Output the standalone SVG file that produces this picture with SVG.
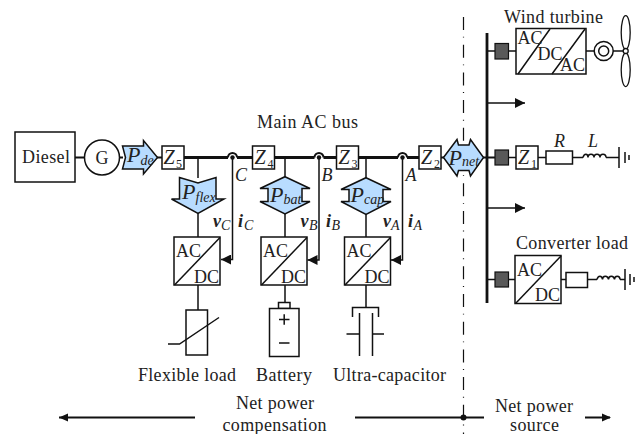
<svg xmlns="http://www.w3.org/2000/svg" width="640" height="434" viewBox="0 0 640 434">
<style>
text{font-family:"Liberation Serif","Times New Roman",serif;fill:#222;font-size:18px}
.i{font-style:italic}
.p{font-style:italic;font-size:22px}
.s{font-style:italic;font-size:14px}
.z{font-style:italic;font-size:20px}
.zs{font-size:12px}
.b{font-style:italic;font-weight:bold;font-size:18px}
.box{fill:#fff;stroke:#111;stroke-width:1.5}
.pw{fill:#b8dcff;stroke:#111;stroke-width:1.5;stroke-linejoin:miter}
.gray{fill:#595959;stroke:#111;stroke-width:1.2}
.l{fill:none;stroke:#111;stroke-width:1.5}
.t{fill:none;stroke:#111;stroke-width:2}
.bus{fill:none;stroke:#111;stroke-width:2.8}
.m{text-anchor:middle}
</style>
<defs>
<marker id="ah" markerUnits="userSpaceOnUse" markerWidth="11" markerHeight="10" refX="10" refY="5" orient="auto"><path d="M0 0L10 5L0 10Z" fill="#111"/></marker>
<g id="acdc"><rect class="box" x="0" y="0" width="46" height="48"/><path class="l" d="M0.5 48L46 0.5"/><text x="2" y="20">AC</text><text x="20" y="45.500">DC</text></g>
</defs>
<g id="connectors">
<path class="t" d="M75 157.500H85M120 157.500H123M157 157.500H162M441 157.500H444M483 157.500H487"/>
<path class="bus" d="M184 157.500H228M237 157.500H252M274 157.500H314.500M323.500 157.500H337M358 157.500H398M407 157.500H419"/>
<path class="l" d="M198 157.500V178M198 213V237M285 157.500V177M285 214V237M366 157.500V178M366 214V237"/>
<path class="l" d="M198 285V310M285 285V303M366 285V307"/>
<path class="t" d="M228 157.500A4.500 4.500 0 0 1 237 157.500M314.500 157.500A4.500 4.500 0 0 1 323.500 157.500M398 157.500A4.500 4.500 0 0 1 407 157.500"/>
<circle cx="232.500" cy="157.500" r="2.200" fill="#111"/><circle cx="319" cy="157.500" r="2.200" fill="#111"/><circle cx="402.500" cy="157.500" r="2.200" fill="#111"/>
<path class="l" d="M232.500 157.500V259.500H221" marker-end="url(#ah)"/>
<path class="l" d="M319 157.500V260H307.500" marker-end="url(#ah)"/>
<path class="l" d="M402.500 157.500V260H391" marker-end="url(#ah)"/>
<path d="M463.500 17V434" fill="none" stroke="#111" stroke-width="1.200" stroke-dasharray="13 6.700 0.900 7.100"/>
<path class="bus" d="M487 33V303"/>
<path class="l" d="M487 51H516M508 157.500H516M538 157.500H546M572 157.500H583M606 157.500H619M487 279.500H516M560 279.500H566M588 279.500H597M620 279.500H625M586 51H594M613 51H625"/>
<path class="t" d="M487 157.500H495"/>
<path class="l" d="M487 103H525" marker-end="url(#ah)"/>
<path class="l" d="M487 208H525" marker-end="url(#ah)"/>
<path class="t" d="M59 417.500H195M355 417.500H484M585 417.500H610"/>
<path d="M59 417.500L68 413.500V421.500Z" fill="#111"/>
<path d="M611 417.500L602 413.500V421.500Z" fill="#111"/>
<circle cx="463.500" cy="417.500" r="3" fill="#111"/>
</g>
<g id="diesel"><rect class="box" x="15" y="132" width="60" height="50"/><text x="22" y="163" textLength="48">Diesel</text></g>
<g id="generator"><circle cx="102" cy="157.500" r="17.500" fill="#fff" stroke="#111" stroke-width="1.500"/><text x="102" y="163.500" class="m">G</text></g>
<g id="p-de"><path class="pw" d="M122.500 146H143.500V140.500L157.500 157.500L143.500 174V169H122.500L125.500 157.500Z"/><text class="p" x="127" y="162">P</text><text class="s" x="140.500" y="164.500">de</text></g>
<g id="z5"><rect class="box" x="162" y="146" width="22" height="23"/><text class="z" x="163.500" y="164">Z</text><text class="zs" x="176" y="167.500">5</text></g>
<g id="z4"><rect class="box" x="252.500" y="146" width="22" height="23"/><text class="z" x="254.500" y="164">Z</text><text class="zs" x="267.500" y="167.500">4</text></g>
<g id="z3"><rect class="box" x="336.500" y="146" width="22" height="23"/><text class="z" x="338.500" y="164">Z</text><text class="zs" x="351.500" y="167.500">3</text></g>
<g id="z2"><rect class="box" x="419" y="146" width="22" height="23"/><text class="z" x="421" y="164">Z</text><text class="zs" x="434" y="167.500">2</text></g>
<g id="p-flex"><path class="pw" d="M179.500 177.500L198 183L216 177.500V199H224L198 213.500L171.500 199H179.500Z"/><text class="p" x="182" y="199">P</text><text class="s" x="195.500" y="201.500">flex</text></g>
<g id="p-bat"><path class="pw" d="M285 176.700L310 188.500H302V201.500H310L285 214L260 201.500H268V188.500H260Z"/><text class="p" x="270" y="201.500">P</text><text class="s" x="283.500" y="204">bat</text></g>
<g id="p-cap"><path class="pw" d="M366 177.700L391 189.500H383V201.500H391L366 214.500L341 201.500H349V189.500H341Z"/><text class="p" x="350.500" y="201.500">P</text><text class="s" x="364" y="204">cap</text></g>
<g id="p-net"><path class="pw" d="M443.500 157.500L457 139.500L458.500 145H469L470.500 139.500L483.500 157.500L470.500 176L469 170.500H458.500L457 176Z"/><text class="p" x="448.500" y="164.500">P</text><text class="s" x="462" y="166">net</text></g>
<g id="conv-c"><use href="#acdc" x="174" y="237"/></g>
<g id="conv-b"><use href="#acdc" x="261" y="237"/></g>
<g id="conv-a"><use href="#acdc" x="344.500" y="237"/></g>
<g id="flexible-load"><rect class="box" x="186" y="310" width="21.500" height="45"/><path class="l" d="M168 344H179.500L219 317.500"/><text x="138" y="381" textLength="98">Flexible load</text></g>
<g id="battery"><rect class="box" x="278.500" y="302.500" width="11.500" height="6"/><rect class="box" x="269.500" y="308.500" width="29.500" height="48"/><path class="l" d="M279 319.500H289.500M284.200 314.300V324.700M279 343H289.500"/><text x="256" y="381" textLength="56">Battery</text></g>
<g id="ultra-capacitor"><path class="l" d="M352.500 317V307.500H378.500V317M359.500 313V356M372.500 313V356M346.500 334H359.500M372.500 334H384"/><text x="333" y="381" textLength="113">Ultra-capacitor</text></g>
<g id="wind-turbine"><text x="504" y="23" textLength="99">Wind turbine</text><rect class="gray" x="495" y="43.500" width="13.500" height="15.500"/><rect class="box" x="516" y="28.500" width="70" height="45.500"/><path class="l" d="M518 74L550 29M552 74L585 29"/><text x="517.500" y="43.500">AC</text><text x="537.500" y="59.500">DC</text><text x="560" y="70.500">AC</text><circle cx="603.700" cy="51" r="9.500" fill="#fff" stroke="#111" stroke-width="1.500"/><circle cx="603.700" cy="51" r="5" fill="#fff" stroke="#111" stroke-width="1.500"/><ellipse cx="625.700" cy="32.500" rx="4.500" ry="16.800" fill="#fff" stroke="#111" stroke-width="1.300"/><ellipse cx="625.700" cy="69.800" rx="4.500" ry="16.800" fill="#fff" stroke="#111" stroke-width="1.300"/><circle cx="625.700" cy="51" r="2.500" fill="#fff" stroke="#111" stroke-width="1.300"/></g>
<g id="line-load"><rect class="gray" x="495" y="150" width="13.500" height="15"/><rect class="box" x="516" y="146" width="22" height="23"/><text class="z" x="518" y="164">Z</text><text class="zs" x="531" y="167.500">1</text><rect class="box" x="546" y="151" width="26.500" height="13"/><text class="i" x="554" y="146.500">R</text><text class="i" x="588" y="146.500">L</text><path class="l" d="M583 157.500C584 153 588 153 588 157.500C588 153 594 153 594 157.500C594 153 600 153 600 157.500C600 153 606 153 606 157.500"/><path class="l" d="M619 147V168M625 152V163M629 155V160"/></g>
<g id="converter-load"><text x="516" y="249" textLength="112">Converter load</text><rect class="gray" x="495" y="272" width="13.500" height="15"/><use href="#acdc" x="515" y="255.500"/><rect class="box" x="566" y="272.500" width="21.500" height="15"/><path class="l" d="M597 279.500C598 275 602 275 602.500 279.500C602.500 275 608 275 608.500 279.500C608.500 275 614 275 614.500 279.500C614.500 275 620 275 620 279.500"/><path class="l" d="M625 269V290M630 274V285M634 277V282"/></g>
<g id="labels">
<text x="257" y="128" textLength="101">Main AC bus</text>
<text class="i" x="235" y="181">C</text><text class="i" x="321.500" y="181">B</text><text class="i" x="405.500" y="181">A</text>
<text class="b" x="213" y="226.500">v</text><text class="s" x="221" y="229.500">C</text>
<text class="b" x="238" y="226.500">i</text><text class="s" x="244" y="229.500">C</text>
<text class="b" x="300.500" y="226.500">v</text><text class="s" x="309" y="229.500">B</text>
<text class="b" x="326" y="226.500">i</text><text class="s" x="331.500" y="229.500">B</text>
<text class="b" x="383" y="226.500">v</text><text class="s" x="391" y="229.500">A</text>
<text class="b" x="408" y="226.500">i</text><text class="s" x="413.500" y="229.500">A</text>
<text x="236" y="409" textLength="78">Net power</text>
<text x="222.500" y="431" textLength="104">compensation</text>
<text x="495" y="412" textLength="78">Net power</text>
<text x="510" y="431" textLength="49">source</text>
</g>
</svg>
